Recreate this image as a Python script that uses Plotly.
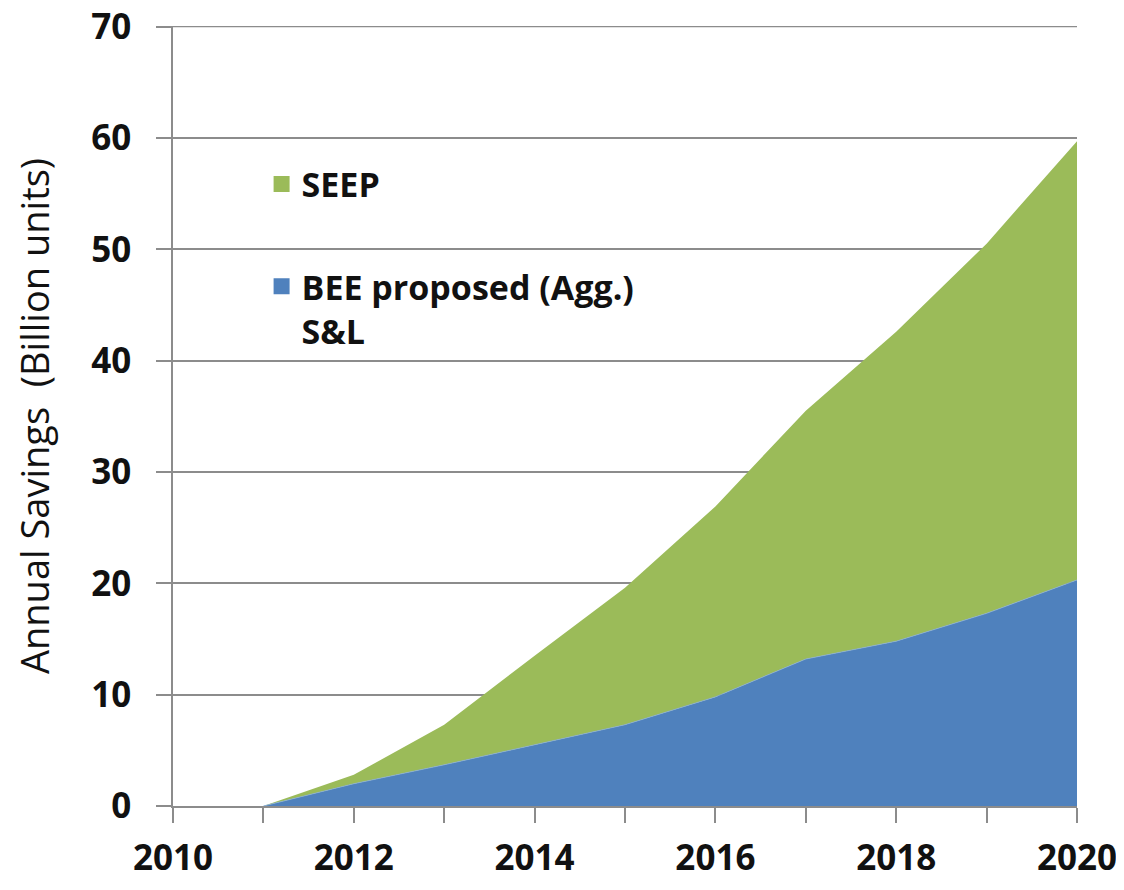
import plotly.graph_objects as go

years = [2011, 2012, 2013, 2014, 2015, 2016, 2017, 2018, 2019, 2020]
bee_sl = [0.0, 2.0, 3.7, 5.5, 7.3, 9.8, 13.2, 14.8, 17.3, 20.3]
seep_total = [0.0, 2.8, 7.3, 13.5, 19.6, 26.9, 35.5, 42.6, 50.5, 59.7]
seep = [round(t - b, 2) for t, b in zip(seep_total, bee_sl)]

x_ticks = [2010, 2012, 2014, 2016, 2018, 2020]
y_ticks = [0, 10, 20, 30, 40, 50, 60, 70]

BLUE = "#4F81BD"
GREEN = "#9BBB59"
GRID = "#8C8C8C"
TXT = "#111111"
FONT = "Open Sans"

fig = go.Figure()
fig.add_trace(go.Scatter(
    x=years, y=bee_sl, stackgroup="s", mode="lines",
    line=dict(width=0.8, color="#86ACD8"), fillcolor=BLUE,
    name="BEE proposed (Agg.)<br>S&L", showlegend=False,
))
fig.add_trace(go.Scatter(
    x=years, y=seep, stackgroup="s", mode="lines",
    line=dict(width=0, color=GREEN), fillcolor=GREEN,
    name="SEEP", showlegend=False,
))
# legend entries (square swatches)
fig.add_trace(go.Scatter(
    x=[None], y=[None], mode="markers", name="SEEP",
    marker=dict(symbol="square", size=23, color=GREEN), legend="legend",
))
fig.add_trace(go.Scatter(
    x=[None], y=[None], mode="markers", name="BEE proposed (Agg.)<br>S&L",
    marker=dict(symbol="square", size=23, color=BLUE), legend="legend2",
))

# top gridline (plotly skips gridlines at the range edge)
fig.add_shape(type="line", xref="paper", yref="y", x0=0, x1=1,
              y0=y_ticks[-1], y1=y_ticks[-1],
              line=dict(color=GRID, width=1.5), layer="below")

leg_common = dict(
    xanchor="left", bgcolor="rgba(0,0,0,0)", itemwidth=30,
    font=dict(size=34, family=FONT, color=TXT, weight="bold"),
    valign="top",
)

fig.update_layout(
    width=1108, height=874,
    margin=dict(l=165, r=39, t=18, b=76),
    paper_bgcolor="white", plot_bgcolor="white",
    font=dict(family=FONT, color=TXT),
    showlegend=True,
    legend=dict(x=0.098, y=0.797, yanchor="middle", **leg_common),
    legend2=dict(x=0.098, y=0.703, yanchor="top", **leg_common),
    xaxis=dict(
        range=[2010, 2020], tickvals=x_ticks,
        ticktext=[str(v) for v in x_ticks],
        showgrid=False, zeroline=False, automargin=False,
        showline=True, linecolor=GRID, linewidth=1.5,
        ticks="outside", ticklen=15, tickcolor=GRID, tickwidth=1.5,
        minor=dict(dtick=1, ticks="outside", ticklen=15, tickcolor=GRID, tickwidth=1.5),
        tickfont=dict(size=35, family=FONT, color=TXT, weight="bold"),
        ticklabelstandoff=5, ticklabeloverflow="allow",
    ),
    yaxis=dict(
        range=[0, 70.05], tickvals=y_ticks,
        showgrid=True, gridcolor=GRID, gridwidth=1.5,
        zeroline=False, automargin=False,
        showline=True, linecolor=GRID, linewidth=1.5,
        ticks="outside", ticklen=15, tickcolor=GRID, tickwidth=1.5,
        tickfont=dict(size=35, family=FONT, color=TXT, weight="bold"),
        ticklabelstandoff=18, ticklabeloverflow="allow",
        title=dict(text="Annual Savings  (Billion units)",
                   font=dict(size=38, family=FONT, color=TXT),
                   standoff=39),
    ),
)

fig.write_html("out.html")
